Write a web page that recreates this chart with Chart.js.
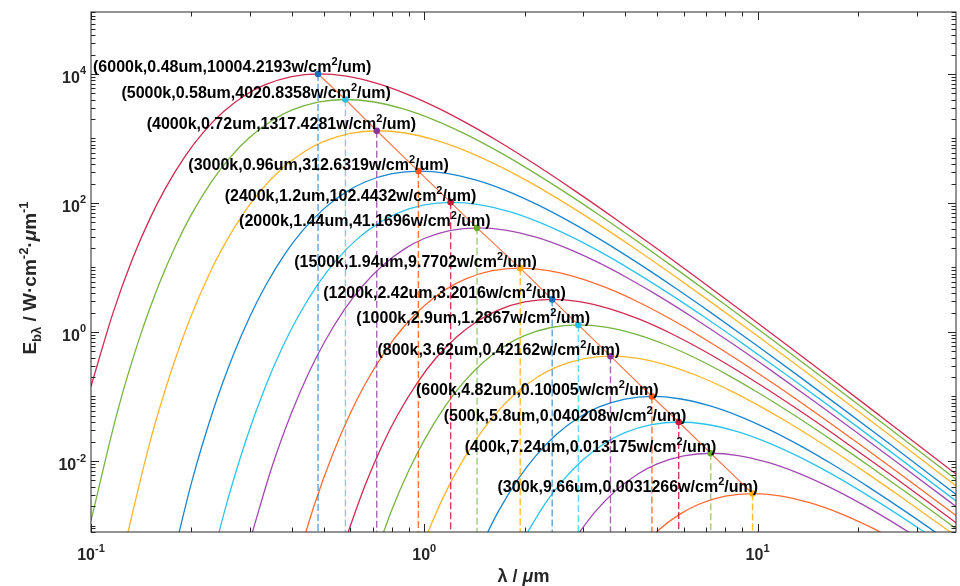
<!DOCTYPE html>
<html>
<head>
<meta charset="utf-8">
<script src="https://cdn.jsdelivr.net/npm/chart.js@4.4.1/dist/chart.umd.min.js"></script>
<style>
  body { margin: 0; background: #fff; }
  canvas { display: block; }
</style>
</head>
<body>
<canvas id="chart" width="960" height="586"></canvas>
<script>
// temperatures, one curve each (K)
const temps = [6000, 5000, 4000, 3000, 2400, 2000, 1500, 1200, 1000, 800, 600, 500, 400, 300]

// wavelength samples of every curve (um)
const wavelengths = [
  [0.1, 0.1167, 0.1333, 0.15, 0.1667, 0.1917, 0.2167, 0.25, 0.2917, 0.3333, 0.4, 0.483, 0.5833, 0.7167, 0.8833, 1.1, 1.367, 1.667, 2.167, 2.833, 3.667, 5, 6.667, 9.167, 12.5, 16.67, 23.33, 33.33, 40],
  [0.1, 0.12, 0.14, 0.16, 0.18, 0.2, 0.23, 0.26, 0.3, 0.35, 0.4, 0.48, 0.5796, 0.7, 0.86, 1.06, 1.32, 1.64, 2, 2.6, 3.4, 4.4, 6, 8, 11, 15, 20, 28, 40],
  [0.125, 0.15, 0.175, 0.2, 0.225, 0.25, 0.2875, 0.325, 0.375, 0.4375, 0.5, 0.6, 0.7245, 0.875, 1.075, 1.325, 1.65, 2.05, 2.5, 3.25, 4.25, 5.5, 7.5, 10, 13.75, 18.75, 25, 35, 50],
  [0.1667, 0.2, 0.2333, 0.2667, 0.3, 0.3333, 0.3833, 0.4333, 0.5, 0.5833, 0.6667, 0.8, 0.966, 1.167, 1.433, 1.767, 2.2, 2.733, 3.333, 4.333, 5.667, 7.333, 10, 13.33, 18.33, 25, 33.33, 46.67],
  [0.2083, 0.25, 0.2917, 0.3333, 0.375, 0.4167, 0.4792, 0.5417, 0.625, 0.7292, 0.8333, 1.0, 1.2075, 1.458, 1.792, 2.208, 2.75, 3.417, 4.167, 5.417, 7.083, 9.167, 12.5, 16.67, 22.92, 31.25, 41.67],
  [0.3, 0.35, 0.4, 0.45, 0.5, 0.575, 0.65, 0.75, 0.875, 1.0, 1.2, 1.449, 1.75, 2.15, 2.65, 3.3, 4.1, 5, 6.5, 8.5, 11, 15, 20, 27.5, 37.5, 50],
  [0.4, 0.4667, 0.5333, 0.6, 0.6667, 0.7667, 0.8667, 1.0, 1.167, 1.333, 1.6, 1.932, 2.333, 2.867, 3.533, 4.4, 5.467, 6.667, 8.667, 11.33, 14.67, 20, 26.67, 36.67, 50],
  [0.5833, 0.6667, 0.75, 0.8333, 0.9583, 1.083, 1.25, 1.458, 1.667, 2.0, 2.415, 2.917, 3.583, 4.417, 5.5, 6.833, 8.333, 10.83, 14.17, 18.33, 25, 33.33, 45.83],
  [0.7, 0.8, 0.9, 1.0, 1.15, 1.3, 1.5, 1.75, 2.0, 2.4, 2.898, 3.5, 4.3, 5.3, 6.6, 8.2, 10, 13, 17, 22, 30, 40],
  [1.0, 1.125, 1.25, 1.4375, 1.625, 1.875, 2.1875, 2.5, 3.0, 3.6225, 4.375, 5.375, 6.625, 8.25, 10.25, 12.5, 16.25, 21.25, 27.5, 37.5, 50],
  [1.5, 1.667, 1.917, 2.167, 2.5, 2.917, 3.333, 4.0, 4.83, 5.833, 7.167, 8.833, 11.0, 13.67, 16.67, 21.67, 28.33, 36.67],
  [2.0, 2.3, 2.6, 3.0, 3.5, 4.0, 4.8, 5.796, 7.0, 8.6, 10.6, 13.2, 16.4, 20, 26, 34],
  [2.875, 3.25, 3.75, 4.375, 5.0, 6.0, 7.245, 8.75, 10.75, 13.25, 16.5, 20.5, 25, 32.5],
  [4.333, 5.0, 5.833, 6.667, 8.0, 9.66, 11.67, 14.33, 17.67, 22.0, 27.33]
]

// spectral emissive power at those wavelengths (W/cm2/um)
const radiance = [
  [0.1441, 2.051, 13.73, 56.20, 164.1, 533.1, 1223, 2616, 4766, 6834, 9126, 10005, 9233, 7226, 4934, 2961, 1641, 904.8, 387.1, 153.9, 61.15, 19.46, 6.564, 1.934, 0.5798, 0.1880, 0.04998, 0.01219, 0.005914],
  [0.001191, 0.05792, 0.8241, 5.517, 22.58, 65.96, 214.2, 491.6, 1051, 1915, 2747, 3668, 4021, 3711, 2904, 1983, 1190, 659.6, 363.6, 155.6, 61.87, 24.58, 7.819, 2.638, 0.7770, 0.2330, 0.07557, 0.02009, 0.004899],
  [0.0003902, 0.01898, 0.2700, 1.808, 7.400, 21.62, 70.20, 161.1, 344.5, 627.6, 900.0, 1202, 1317, 1216, 951.6, 649.8, 389.9, 216.2, 119.2, 50.97, 20.27, 8.053, 2.562, 0.8644, 0.2546, 0.07635, 0.02476, 0.006582, 0.001605],
  [0.00009259, 0.004504, 0.06408, 0.4290, 1.756, 5.129, 16.66, 38.22, 81.76, 148.9, 213.6, 285.2, 312.6, 288.5, 225.8, 154.2, 92.53, 51.29, 28.28, 12.10, 4.811, 1.911, 0.6080, 0.2051, 0.06042, 0.01812, 0.005876, 0.001562],
  [0.00003034, 0.001476, 0.02100, 0.1406, 0.5754, 1.681, 5.458, 12.53, 26.79, 48.80, 69.98, 93.45, 102.4, 94.55, 74.00, 50.53, 30.32, 16.81, 9.266, 3.964, 1.576, 0.6262, 0.1992, 0.06721, 0.01980, 0.005937, 0.001926],
  [0.0005931, 0.008438, 0.05649, 0.2313, 0.6755, 2.194, 5.034, 10.77, 19.61, 28.13, 37.56, 41.17, 38.00, 29.74, 20.31, 12.19, 6.755, 3.724, 1.593, 0.6335, 0.2517, 0.08006, 0.02701, 0.007957, 0.002386, 0.0007738],
  [0.0001407, 0.002003, 0.01341, 0.05488, 0.1603, 0.5206, 1.195, 2.555, 4.654, 6.674, 8.912, 9.770, 9.017, 7.057, 4.819, 2.892, 1.603, 0.8836, 0.3780, 0.1503, 0.05972, 0.01900, 0.006410, 0.001888, 0.0005662],
  [0.0006562, 0.004393, 0.01798, 0.05252, 0.1706, 0.3914, 0.8372, 1.525, 2.187, 2.920, 3.202, 2.955, 2.312, 1.579, 0.9476, 0.5252, 0.2896, 0.1239, 0.04926, 0.01957, 0.006226, 0.002100, 0.0006187],
  [0.0002637, 0.001765, 0.007227, 0.02111, 0.06855, 0.1573, 0.3364, 0.6129, 0.8789, 1.174, 1.287, 1.187, 0.9293, 0.6346, 0.3808, 0.2111, 0.1164, 0.04978, 0.01980, 0.007864, 0.002502, 0.0008441],
  [0.0005785, 0.002368, 0.006917, 0.02246, 0.05154, 0.1103, 0.2008, 0.2880, 0.3846, 0.4216, 0.3891, 0.3045, 0.2079, 0.1248, 0.06917, 0.03813, 0.01631, 0.006487, 0.002577, 0.0008199, 0.0002766],
  [0.0005620, 0.001641, 0.005331, 0.01223, 0.02616, 0.04766, 0.06834, 0.09126, 0.1001, 0.09233, 0.07226, 0.04934, 0.02961, 0.01641, 0.009048, 0.003871, 0.001540, 0.0006115],
  [0.0006596, 0.002142, 0.004916, 0.01051, 0.01915, 0.02747, 0.03668, 0.04021, 0.03711, 0.02904, 0.01983, 0.01190, 0.006596, 0.003636, 0.001556, 0.0006187],
  [0.0007020, 0.001611, 0.003445, 0.006276, 0.009000, 0.01202, 0.01318, 0.01216, 0.009516, 0.006498, 0.003899, 0.002162, 0.001192, 0.0005097],
  [0.0003822, 0.0008176, 0.001489, 0.002136, 0.002852, 0.003126, 0.002885, 0.002258, 0.001542, 0.0009253, 0.0005129]
]

// marked peak of every curve
const peakLambda = [0.48, 0.58, 0.72, 0.96, 1.2, 1.44, 1.94, 2.42, 2.9, 3.62, 4.82, 5.8, 7.24, 9.66]
const peakValue = [10004.2193, 4020.8358, 1317.4281, 312.6319, 102.4432, 41.1696, 9.7702, 3.2016, 1.2867, 0.42162, 0.10005, 0.040208, 0.013175, 0.0031266]
const peakLabels = [
  '(6000k,0.48um,10004.2193w/cm2/um)',
  '(5000k,0.58um,4020.8358w/cm2/um)',
  '(4000k,0.72um,1317.4281w/cm2/um)',
  '(3000k,0.96um,312.6319w/cm2/um)',
  '(2400k,1.2um,102.4432w/cm2/um)',
  '(2000k,1.44um,41.1696w/cm2/um)',
  '(1500k,1.94um,9.7702w/cm2/um)',
  '(1200k,2.42um,3.2016w/cm2/um)',
  '(1000k,2.9um,1.2867w/cm2/um)',
  '(800k,3.62um,0.42162w/cm2/um)',
  '(600k,4.82um,0.10005w/cm2/um)',
  '(500k,5.8um,0.040208w/cm2/um)',
  '(400k,7.24um,0.013175w/cm2/um)',
  '(300k,9.66um,0.0031266w/cm2/um)'
]

// axis ticks: value and exponent text
const xTickValues = [0.1, 1, 10]
const xTickExps = ['-1', '0', '1']
const yTickValues = [0.01, 1, 100, 10000]
const yTickExps = ['-2', '0', '2', '4']

const X_MIN = 0.1, X_MAX = 39.4
const Y_MIN = 7.93e-4, Y_MAX = 9.14e4

// colours (cycle of 7)
const curveColors = ['#D02A52', '#78B443', '#FDB72C', '#1A86CF', '#2EC3EF', '#A24AB2', '#FF6B33']
const markerColors = ['#1470BE', '#27C0EC', '#8A3598', '#FF5416', '#C61B3C', '#66A72C', '#FFAD00']
const dropColors = ['rgba(20,112,190,0.65)', 'rgba(39,192,236,0.65)', 'rgba(138,53,152,0.75)', 'rgba(255,84,22,0.8)', 'rgba(198,27,60,0.85)', 'rgba(102,167,44,0.6)', 'rgba(255,173,0,0.8)']

// label placement relative to its marker (px)
const labelDx = [-225, -224, -230, -230, -226, -238, -226, -229, -222, -233, -236, -235, -246, -255]

const FONT = '"Liberation Sans", Arial, Helvetica, sans-serif'
const bold = (size, italic) => `${italic ? 'italic ' : ''}bold ${size}px ${FONT}`

function runsWidth(ctx, runs) {
   let w = 0
   runs.forEach(r => {
      ctx.font = r.font
      w += ctx.measureText(r.text).width
   })
   return w
}

function drawRuns(ctx, runs, x, y) {
   runs.forEach(r => {
      ctx.font = r.font
      ctx.fillText(r.text, x, y + (r.dy || 0))
      x += ctx.measureText(r.text).width
   })
}

function powerRuns(exp) {
   return [
      { text: '10', font: bold(16) },
      { text: exp, font: bold(11), dy: -8.5 }
   ]
}

// box, inward ticks, tick labels, titles and peak labels
const axesPlugin = {
   id: 'matlabAxes',
   afterDraw(chart) {
      const { ctx, chartArea: a, scales: { x, y } } = chart
      ctx.save()
      ctx.strokeStyle = '#262626'
      ctx.lineWidth = 1

      const seg = (x1, y1, x2, y2) => {
         ctx.beginPath()
         ctx.moveTo(x1, y1)
         ctx.lineTo(x2, y2)
         ctx.stroke()
      }

      ctx.strokeRect(a.left, a.top, a.right - a.left, a.bottom - a.top)

      // x ticks
      for (let d = -1; d <= 1; d++) {
         for (let m = 1; m <= 9; m++) {
            const v = m * Math.pow(10, d)
            if (v < X_MIN || v > X_MAX) continue
            const px = Math.round(x.getPixelForValue(v)) + 0.5
            const len = m === 1 ? 8 : 4.5
            seg(px, a.bottom, px, a.bottom - len)
            seg(px, a.top, px, a.top + len)
         }
      }
      // y ticks
      for (let d = -4; d <= 4; d++) {
         for (let m = 1; m <= 9; m++) {
            const v = m * Math.pow(10, d)
            if (v < Y_MIN || v > Y_MAX) continue
            const py = Math.round(y.getPixelForValue(v)) + 0.5
            const len = (m === 1 && d % 2 === 0) ? 8 : 4.5
            seg(a.left, py, a.left + len, py)
            seg(a.right, py, a.right - len, py)
         }
      }

      ctx.fillStyle = '#262626'
      ctx.textBaseline = 'alphabetic'
      ctx.textAlign = 'left'

      // x tick labels
      xTickValues.forEach((v, i) => {
         const runs = powerRuns(xTickExps[i])
         const w = runsWidth(ctx, runs)
         drawRuns(ctx, runs, x.getPixelForValue(v) - w / 2, a.bottom + 28)
      })
      // y tick labels
      yTickValues.forEach((v, i) => {
         const runs = powerRuns(yTickExps[i])
         const w = runsWidth(ctx, runs)
         drawRuns(ctx, runs, a.left - 5 - w, y.getPixelForValue(v) + 9)
      })

      // x title
      const xRuns = [
         { text: 'λ / ', font: bold(18) },
         { text: 'μ', font: bold(18, true) },
         { text: 'm', font: bold(18) }
      ]
      const xw = runsWidth(ctx, xRuns)
      drawRuns(ctx, xRuns, (a.left + a.right) / 2 - xw / 2, 582)

      // y title
      const yRuns = [
         { text: 'E', font: bold(19) },
         { text: 'bλ', font: bold(13), dy: 5 },
         { text: ' / W·cm', font: bold(19) },
         { text: '-2', font: bold(13), dy: -8 },
         { text: '·', font: bold(19) },
         { text: 'μ', font: bold(19, true) },
         { text: 'm', font: bold(19) },
         { text: '-1', font: bold(13), dy: -8 }
      ]
      const yw = runsWidth(ctx, yRuns)
      ctx.save()
      ctx.translate(36, (a.top + a.bottom) / 2 + 6)
      ctx.rotate(-Math.PI / 2)
      drawRuns(ctx, yRuns, -yw / 2, 0)
      ctx.restore()

      // peak labels
      ctx.fillStyle = '#000'
      peakLabels.forEach((label, i) => {
         const px = x.getPixelForValue(peakLambda[i])
         const py = y.getPixelForValue(peakValue[i])
         const [head, tail] = label.split('cm2')
         drawRuns(ctx, [
            { text: head + 'cm', font: bold(16) },
            { text: '2', font: bold(11), dy: -7 },
            { text: tail, font: bold(16) }
         ], px + labelDx[i], py - 1.5)
      })

      ctx.restore()
   }
}

const curveSets = temps.map((t, i) => ({
   label: t + 'K',
   data: wavelengths[i].map((w, j) => ({ x: w, y: radiance[i][j] })),
   borderColor: curveColors[i % 7],
   borderWidth: 1.3,
   pointRadius: 0,
   cubicInterpolationMode: 'monotone',
   order: 3
}))

const dropSets = temps.map((t, i) => ({
   label: t + 'K drop',
   data: [{ x: peakLambda[i], y: peakValue[i] }, { x: peakLambda[i], y: Y_MIN }],
   borderColor: dropColors[i % 7],
   borderWidth: 1.4,
   borderDash: [7, 3],
   pointRadius: 0,
   order: 2
}))

const peakLine = {
   label: 'peaks',
   data: peakLambda.map((w, i) => ({ x: w, y: peakValue[i] })),
   borderColor: '#F47C50',
   borderWidth: 1.2,
   pointRadius: 0,
   order: 1
}

const peakMarkers = {
   label: 'peak markers',
   data: peakLambda.map((w, i) => ({ x: w, y: peakValue[i] })),
   showLine: false,
   pointRadius: 3.3,
   pointBorderWidth: 0,
   pointBackgroundColor: temps.map((t, i) => markerColors[i % 7]),
   order: 0
}

new Chart(document.getElementById('chart'), {
   type: 'line',
   data: { datasets: [peakMarkers, peakLine, ...dropSets, ...curveSets] },
   options: {
      responsive: false,
      animation: false,
      events: [],
      layout: { padding: { left: 91, right: 1, top: 12, bottom: 54 } },
      elements: { line: { capBezierPoints: false } },
      plugins: {
         legend: { display: false },
         tooltip: { enabled: false }
      },
      scales: {
         x: { type: 'logarithmic', min: X_MIN, max: X_MAX, display: false },
         y: { type: 'logarithmic', min: Y_MIN, max: Y_MAX, display: false }
      }
   },
   plugins: [axesPlugin]
})
</script>
</body>
</html>
